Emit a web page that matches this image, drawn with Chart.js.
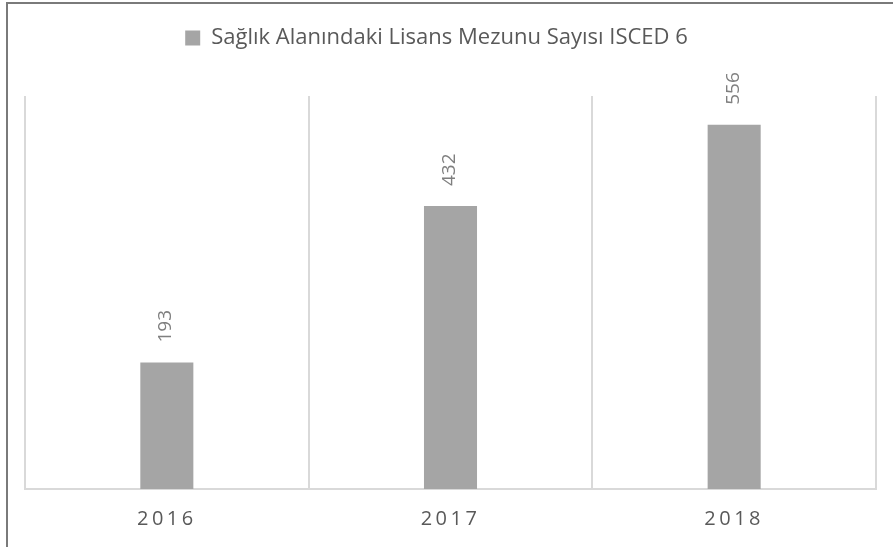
<!DOCTYPE html>
<html><head><meta charset="utf-8">
<script src="https://cdn.jsdelivr.net/npm/chart.js@4/dist/chart.umd.min.js"></script>
<style>
html,body{margin:0;padding:0;background:#fff;width:893px;height:547px;overflow:hidden;}
#frame{position:absolute;left:6px;top:2px;width:887px;height:545px;border-top:2px solid #7a7a7a;border-left:2px solid #7a7a7a;box-sizing:border-box;}
#wrap{position:absolute;left:8px;top:4px;width:885px;height:543px;}
</style></head><body>
<div id="frame"></div>
<div id="wrap"><canvas id="c"></canvas></div>
<script>
const categories = ['2016', '2017', '2018'];
const seriesName = 'Sağlık Alanındaki Lisans Mezunu Sayısı ISCED 6';
const graduates = [193, 432, 556];
const axisMin = 0;
const axisMax = 600;

const valueLabels = {
  id: 'valueLabels',
  afterDatasetsDraw(chart) {
    const ctx = chart.ctx;
    const meta = chart.getDatasetMeta(0);
    const data = chart.data.datasets[0].data;
    meta.data.forEach((el, i) => {
      ctx.save();
      ctx.translate(el.x - 1, el.y - 20);
      ctx.rotate(-Math.PI / 2);
      ctx.font = '19px "Open Sans"';
      ctx.fillStyle = '#7f7f7f';
      ctx.textAlign = 'left';
      ctx.textBaseline = 'middle';
      ctx.fillText(String(data[i]), 0, 0);
      ctx.restore();
    });
  }
};

const spacedTicks = {
  id: 'spacedTicks',
  afterLayout(chart) {
    const sc = chart.scales.x;
    if (sc._wrapped) return;
    const orig = sc.drawLabels;
    sc.drawLabels = function (area) {
      const ctx = this.ctx;
      ctx.save();
      ctx.letterSpacing = '3.5px';
      orig.call(this, area);
      ctx.restore();
    };
    sc._wrapped = true;
    if (chart.legend) { chart.legend.left -= 14; chart.legend.right -= 14; }
  }
};

new Chart(document.getElementById('c'), {
  type: 'bar',
  data: {
    labels: categories,
    datasets: [{
      label: seriesName,
      data: graduates,
      backgroundColor: '#a5a5a5',
      borderWidth: 0,
      barPercentage: 0.187,
      categoryPercentage: 1
    }]
  },
  options: {
    responsive: true,
    maintainAspectRatio: false,
    animation: false,
    devicePixelRatio: 1,
    layout: { padding: { top: 10, left: 17, right: 17, bottom: -2 } },
    plugins: {
      legend: {
        position: 'top',
        labels: {
          font: { family: 'Open Sans', size: 22 },
          color: '#595959',
          boxWidth: 15,
          boxHeight: 15,
          padding: 13
        }
      },
      subtitle: {
        display: true,
        text: '',
        weight: 500,
        font: { size: 1, lineHeight: 1 },
        padding: { top: 36, bottom: 0 }
      },
      tooltip: { enabled: false }
    },
    scales: {
      x: {
        grid: { color: '#d9d9d9', lineWidth: 2, drawTicks: false, offset: true },
        border: { color: '#d9d9d9', width: 2 },
        ticks: { font: { family: 'Open Sans', size: 20 }, color: '#595959', padding: 18 }
      },
      y: {
        display: false,
        min: axisMin,
        max: axisMax
      }
    }
  },
  plugins: [valueLabels, spacedTicks]
});
</script>
</body></html>
